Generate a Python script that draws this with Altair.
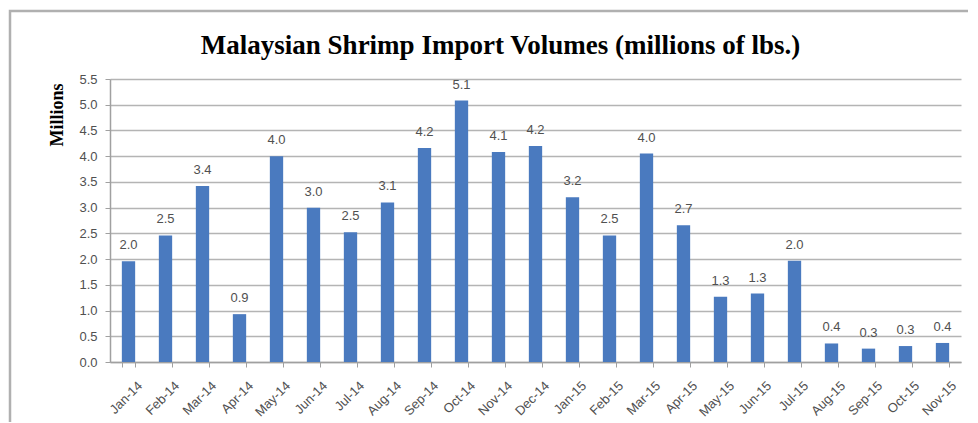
import altair as alt
import pandas as pd

months = ["Jan-14", "Feb-14", "Mar-14", "Apr-14", "May-14", "Jun-14", "Jul-14", "Aug-14",
          "Sep-14", "Oct-14", "Nov-14", "Dec-14", "Jan-15", "Feb-15", "Mar-15", "Apr-15",
          "May-15", "Jun-15", "Jul-15", "Aug-15", "Sep-15", "Oct-15", "Nov-15"]
volumes = [1.96, 2.46, 3.42, 0.93, 4.00, 3.00, 2.52, 3.10,
           4.16, 5.08, 4.08, 4.20, 3.20, 2.46, 4.05, 2.66,
           1.27, 1.33, 1.97, 0.36, 0.26, 0.31, 0.37]
y_ticks = [0.0, 0.5, 1.0, 1.5, 2.0, 2.5, 3.0, 3.5, 4.0, 4.5, 5.0, 5.5]

df = pd.DataFrame({"month": months, "volume": volumes})

W, H = 851, 283
label_font = "Liberation Sans"
text_color = "#505050"

x_scale = alt.Scale(paddingInner=0.64, paddingOuter=0.32)
y_scale = alt.Scale(domain=[0, 5.5], nice=False)

x_axis = alt.Axis(title=None, labelAngle=-45, labelAlign="right", labelBaseline="top",
                  labelFont=label_font, labelFontSize=13, labelColor=text_color,
                  labelPadding=12, labelOffset=7, tickBand="extent", tickSize=5,
                  tickColor="#a0a0a0", domainColor="#a0a0a0", domainWidth=1.5, grid=False,
                  labelOverlap=False)
y_axis = alt.Axis(title="Millions", values=y_ticks, format=".1f",
                  labelOverlap=False, labelFlush=False,
                  labelFont=label_font, labelFontSize=13, labelColor=text_color,
                  labelPadding=8, tickSize=5, tickColor="#a0a0a0",
                  domainColor="#a0a0a0", domainWidth=1.5,
                  grid=True, gridColor="#b4b4b4", gridWidth=1.5,
                  titleFont="Liberation Serif", titleFontWeight="bold", titleFontSize=18,
                  titleColor="#000000", titleAngle=-90, titleAlign="right",
                  titleBaseline="middle", titleX=-53, titleY=4)

x_enc = alt.X("month:N", sort=months, scale=x_scale, axis=x_axis)
y_enc = alt.Y("volume:Q", scale=y_scale, axis=y_axis)

bars = alt.Chart(df).mark_bar(color="#4a7abf").encode(x=x_enc, y=y_enc)

labels = alt.Chart(df).mark_text(font=label_font, fontSize=13, color=text_color,
                                 baseline="alphabetic", dy=-12).encode(
    x=x_enc, y=y_enc,
    text=alt.Text("volume:Q", format=".1f"))

frame_df = pd.DataFrame({"k": [0]})
frame = alt.Chart(frame_df).mark_rect(fill=None, stroke="#b0b0b0", strokeWidth=2.5).encode(
    x=alt.value(-100), x2=alt.value(900), y=alt.value(-68), y2=alt.value(420))

chart = alt.layer(frame, bars, labels).properties(
    width=W, height=H,
    padding={"left": 102, "top": 71, "right": 7, "bottom": 60},
    autosize=alt.AutoSizeParams(type="none"),
    title=alt.TitleParams("Malaysian Shrimp Import Volumes (millions of lbs.)",
                          font="Liberation Serif", fontSize=27, fontWeight="bold",
                          color="#000000", anchor="middle", frame="group", dx=-35,
                          offset=0, dy=50),
    background="white",
).configure_view(stroke=None)

chart.save("out.html", embed_options={"renderer": "svg", "actions": False})
